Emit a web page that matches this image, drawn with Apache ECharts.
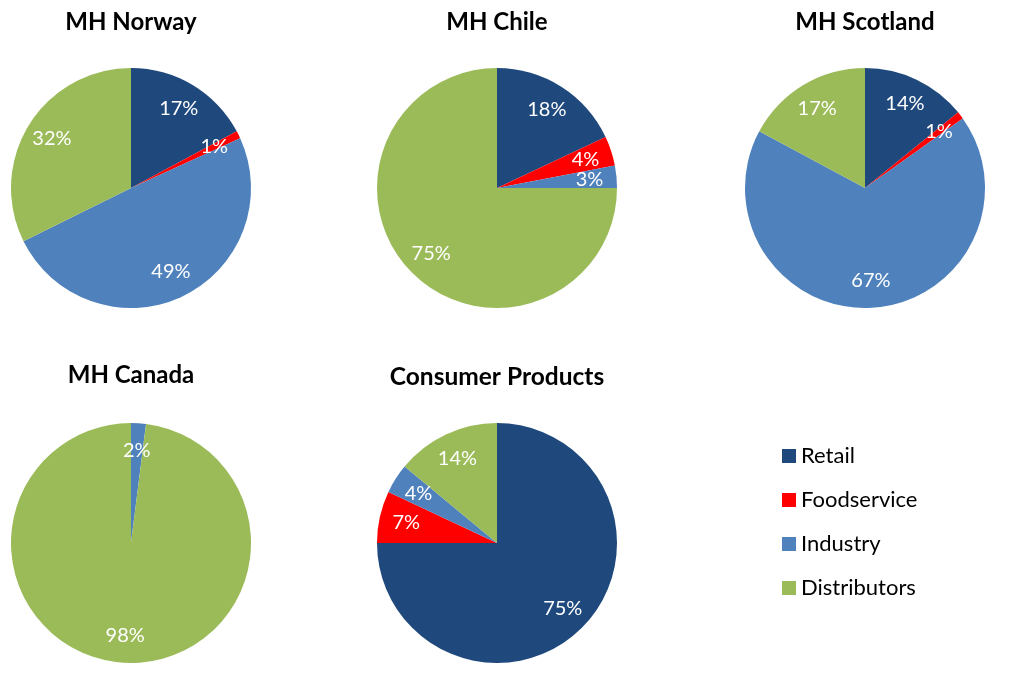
<!DOCTYPE html>
<html>
<head>
<meta charset="utf-8">
<script src="https://cdn.jsdelivr.net/npm/echarts@6/dist/echarts.min.js"></script>
<style>
html,body{margin:0;padding:0;background:#fff;}
#chart{width:1024px;height:695px;}
</style>
</head>
<body>
<div id="chart"></div>
<script>
const categories = ['Retail', 'Foodservice', 'Industry', 'Distributors'];
const colors = ['#1F497D', '#FF0000', '#4F81BD', '#9BBB59'];
const pieTitles = ['MH Norway', 'MH Chile', 'MH Scotland', 'MH Canada', 'Consumer Products'];
const norway = [17, 1, 49, 32];
const chile = [18, 4, 3, 75];
const scotland = [14, 1, 67, 17];
const canada = [0, 0, 2, 98];
const consumer = [75, 7, 4, 14];

const values = [norway, chile, scotland, canada, consumer];
const centers = [[131, 188], [497, 188], [865, 188], [131, 543], [497, 543]];
const titleTops = [10, 10, 10, 363, 365];
const titleSizes = [24, 24, 24, 24, 24.5];
const R = 120;
const FONT = 'Lato, "Open Sans", sans-serif';

const chart = echarts.init(document.getElementById('chart'));

const series = [];
const titles = [];
values.forEach((vals, i) => {
  const data = vals.map((v, k) => ({ name: categories[k], value: v, itemStyle: { color: colors[k] } }));
  series.push({
    type: 'pie',
    center: centers[i],
    radius: [0, R],
    startAngle: 90,
    clockwise: true,
    label: { show: false },
    labelLine: { show: false },
    itemStyle: { borderWidth: 0 },
    emphasis: { disabled: true },
    data: data
  });
  series.push({
    type: 'pie',
    center: centers[i],
    radius: [60, R],
    startAngle: 90,
    clockwise: true,
    silent: true,
    avoidLabelOverlap: false,
    legendHoverLink: false,
    itemStyle: { color: 'rgba(0,0,0,0)', borderWidth: 0 },
    label: {
      show: true,
      position: 'inside',
      color: '#fff',
      fontFamily: FONT,
      fontSize: 20,
      formatter: p => (p.value > 0 ? p.value + '%' : '')
    },
    labelLayout: { hideOverlap: false },
    labelLine: { show: false },
    emphasis: { disabled: true },
    data: vals.map((v, k) => ({ name: categories[k], value: v }))
  });
  titles.push({
    text: pieTitles[i],
    left: centers[i][0],
    top: titleTops[i],
    textAlign: 'center',
    padding: 0,
    textStyle: { fontFamily: FONT, fontWeight: 'bold', fontSize: titleSizes[i], color: '#000' }
  });
});

chart.setOption({
  animation: false,
  backgroundColor: '#fff',
  title: titles,
  legend: {
    orient: 'vertical',
    left: 782,
    top: 445,
    padding: 0,
    itemWidth: 14,
    itemHeight: 14,
    itemGap: 22,
    icon: 'rect',
    selectedMode: false,
    textStyle: { fontFamily: FONT, fontSize: 22, color: '#000', lineHeight: 22 },
    data: categories.map((c, k) => ({ name: c, itemStyle: { color: colors[k] } }))
  },
  series: series
});
</script>
</body>
</html>
